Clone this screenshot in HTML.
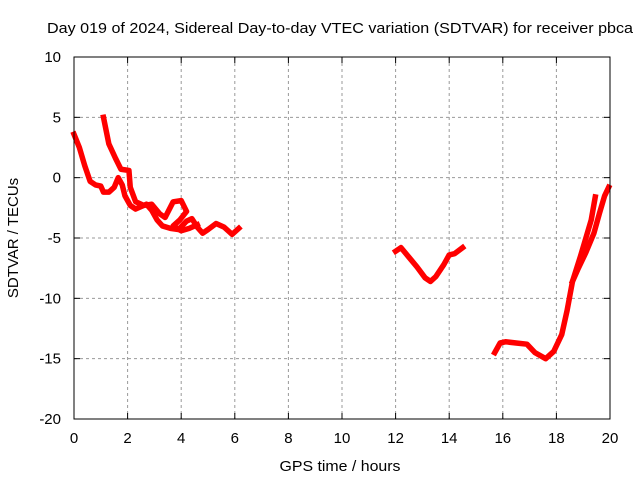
<!DOCTYPE html>
<html><head><meta charset="utf-8"><style>
body{margin:0;background:#fff;}
svg{display:block;font-family:"Liberation Sans",sans-serif;}
</style></head><body>
<svg id="chart" width="640" height="480">
<text x="340" y="33" font-size="15" text-anchor="middle" textLength="586" lengthAdjust="spacingAndGlyphs">Day 019 of 2024, Sidereal Day-to-day VTEC variation (SDTVAR) for receiver pbca</text>
<g id="grid"></g>
<g id="marks"></g>
<rect x="74" y="57" width="536" height="362" fill="none" stroke="#000" stroke-width="1"/>
<g id="ticks"></g>
<text x="340" y="471" font-size="15" text-anchor="middle" textLength="121" lengthAdjust="spacingAndGlyphs">GPS time / hours</text>
<text transform="translate(18,238) rotate(-90)" font-size="15" text-anchor="middle">SDTVAR / TECUs</text>
</svg>
<script>
const xTicks=[0,2,4,6,8,10,12,14,16,18,20];
const yTicks=[10,5,0,-5,-10,-15,-20];
const segA=[[0,3.6],[0.2,2.5],[0.4,1],[0.6,-0.3],[0.8,-0.6],[1.0,-0.7],[1.1,-1.2],[1.3,-1.2],[1.5,-0.8],[1.65,0],[1.8,-0.6],[1.9,-1.5],[2.1,-2.3],[2.3,-2.6],[2.5,-2.4],[2.7,-2.2],[2.9,-2.7],[3.1,-3.5],[3.3,-4.0],[3.6,-4.2],[3.9,-4.3],[4.2,-3.6],[4.4,-3.4],[4.6,-4.1],[4.8,-4.6],[5.0,-4.3],[5.3,-3.8],[5.6,-4.1],[5.9,-4.7],[6.15,-4.2]];
const segB=[[1.1,5],[1.3,2.8],[1.55,1.6],[1.75,0.7],[2.05,0.6],[2.1,-0.8],[2.3,-2],[2.6,-2.3],[2.9,-2.2],[3.2,-3],[3.4,-3.3],[3.7,-2],[4.0,-1.9],[4.2,-2.8],[3.95,-3.5],[3.7,-4],[4.0,-4.4],[4.3,-4.2],[4.6,-3.9]];
const segC=[[12,-6.1],[12.2,-5.8],[12.5,-6.6],[12.8,-7.4],[13.1,-8.3],[13.3,-8.6],[13.5,-8.2],[13.8,-7.2],[14.0,-6.4],[14.2,-6.3],[14.5,-5.8]];
const segD=[[15.7,-14.5],[15.9,-13.7],[16.1,-13.6],[16.5,-13.7],[16.9,-13.8],[17.2,-14.5],[17.6,-15],[17.9,-14.4],[18.2,-13],[18.4,-11],[18.6,-8.6],[18.9,-6.5],[19.1,-5],[19.3,-3.5],[19.45,-1.6]];
const segE=[[18.6,-8.6],[18.8,-7.6],[19.1,-6.2],[19.4,-4.6],[19.6,-3],[19.8,-1.5],[19.95,-0.8]];
const NS="http://www.w3.org/2000/svg";
const X=v=>74+v*536/20, Y=v=>57+(10-v)*362/30;
const grid=document.getElementById('grid'),ticks=document.getElementById('ticks'),marks=document.getElementById('marks');
function mk(tag,attrs,parent){const e=document.createElementNS(NS,tag);for(const k in attrs)e.setAttribute(k,attrs[k]);parent.appendChild(e);return e;}
xTicks.forEach(t=>{
 if(t>0&&t<20){const g=mk('line',{x1:X(t),x2:X(t),y1:57,y2:419,stroke:'#999','stroke-dasharray':'3,3'},grid);
 
 }
 mk('line',{x1:X(t),x2:X(t),y1:419,y2:413,stroke:'#000'},ticks);
 mk('line',{x1:X(t),x2:X(t),y1:57,y2:63,stroke:'#000'},ticks);
 const l=mk('text',{x:X(t),y:443,'font-size':15,'text-anchor':'middle'},ticks);l.textContent=t;
 
 
});
yTicks.forEach(t=>{
 if(t>-20&&t<10){const g=mk('line',{x1:74,x2:610,y1:Y(t),y2:Y(t),stroke:'#999','stroke-dasharray':'3,3'},grid);
 
 }
 mk('line',{x1:74,x2:80,y1:Y(t),y2:Y(t),stroke:'#000'},ticks);
 mk('line',{x1:604,x2:610,y1:Y(t),y2:Y(t),stroke:'#000'},ticks);
 const l=mk('text',{x:61,y:Y(t)+5,'font-size':15,'text-anchor':'end'},ticks);l.textContent=t;
 
 
});
[segA,segB,segC,segD,segE].forEach((s,i)=>{
 const p=mk('polyline',{points:s.map(d=>X(d[0])+','+Y(d[1])).join(' '),fill:'none',stroke:'#f00','stroke-width':5.5,'stroke-linejoin':'round','stroke-linecap':'square'},marks);
 
 
});
</script>
</body></html>
